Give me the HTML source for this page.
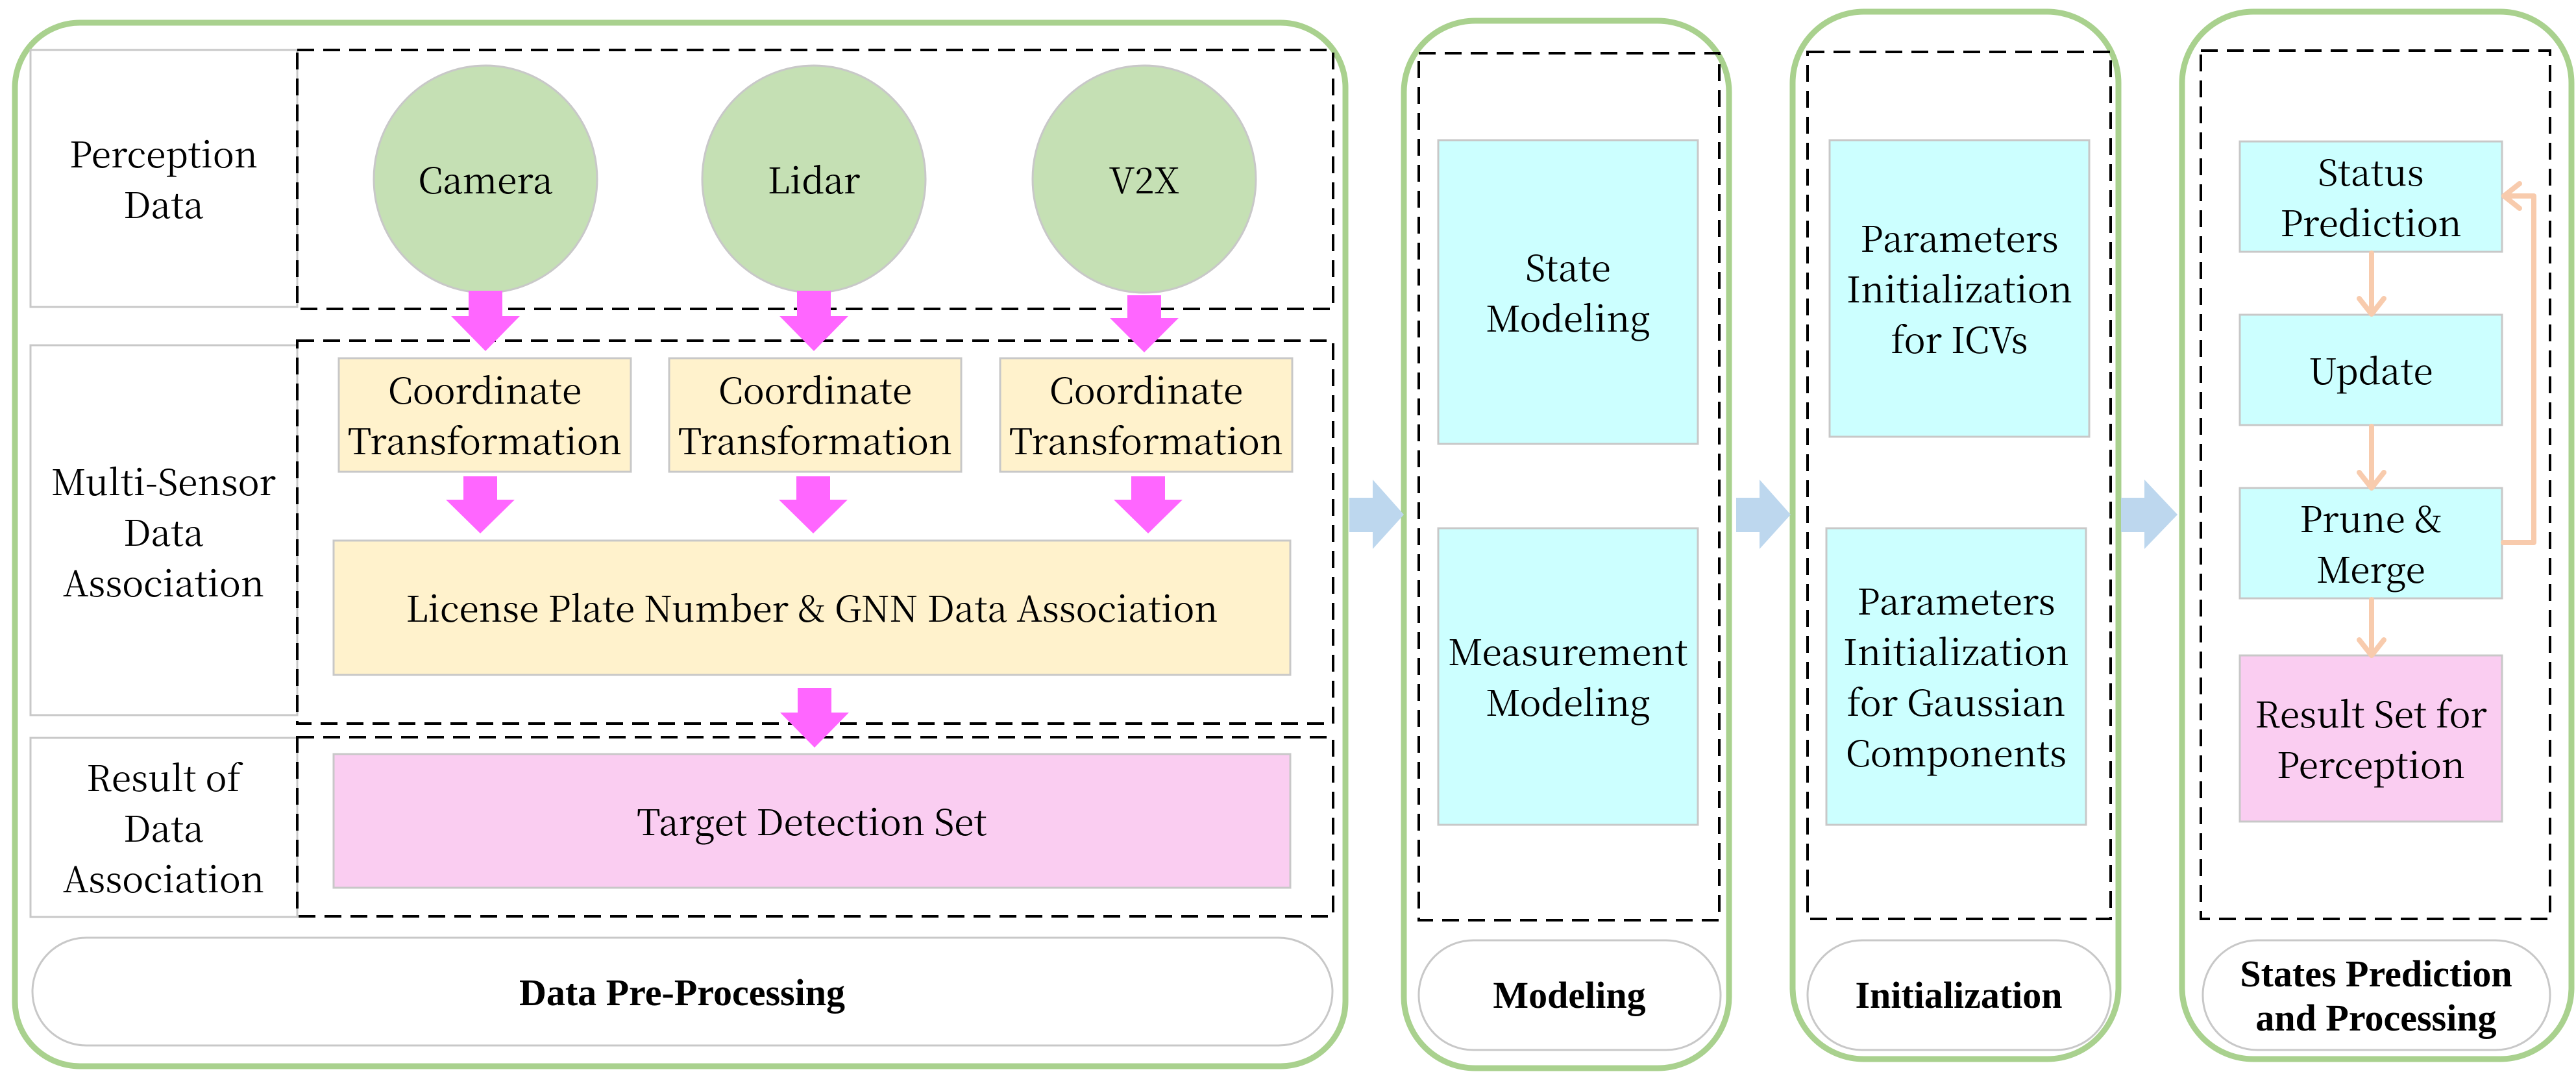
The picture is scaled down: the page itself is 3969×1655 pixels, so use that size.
<!DOCTYPE html>
<html><head><meta charset="utf-8"><style>
html,body{margin:0;padding:0;background:#fff;}
svg{display:block;}
svg text{font-family:"Noto Serif CJK SC","Liberation Serif",serif;font-size:55px;fill:#000;text-anchor:middle;font-weight:normal;}
svg text.b{font-family:"Liberation Serif",serif;font-weight:bold;font-size:58px;}
</style></head><body>
<svg width="3969" height="1655" viewBox="0 0 3969 1655" xmlns="http://www.w3.org/2000/svg">
<g fill="#fff" stroke="#a9d18e" stroke-width="9">
<rect x="23" y="35" width="2050" height="1608" rx="100"/>
<rect x="2163" y="32" width="501" height="1614" rx="110"/>
<rect x="2762" y="18" width="502" height="1614" rx="110"/>
<rect x="3362" y="18" width="600" height="1614" rx="110"/>
</g>
<g fill="#fff" stroke="#c8c8c8" stroke-width="3">
<rect x="47" y="77" width="411" height="396"/>
<rect x="47" y="532" width="411" height="570"/>
<rect x="47" y="1137" width="411" height="276"/>
</g>
<text x="252" y="258">Perception</text><text x="252" y="336">Data</text>
<text x="252" y="763">Multi-Sensor</text><text x="252" y="841">Data</text><text x="252" y="919">Association</text>
<text x="252" y="1219">Result of</text><text x="252" y="1297">Data</text><text x="252" y="1375">Association</text>
<g fill="none" stroke="#000" stroke-width="4" stroke-dasharray="26 14">
<rect x="458" y="77" width="1596" height="399"/>
<rect x="458" y="525" width="1596" height="590"/>
<rect x="458" y="1136" width="1596" height="276"/>
<rect x="2186" y="82" width="463" height="1336"/>
<rect x="2785" y="80" width="467" height="1336"/>
<rect x="3391" y="78" width="538" height="1338"/>
</g>
<g fill="#c5e0b4" stroke="#c8c8c8" stroke-width="3">
<ellipse cx="748" cy="276" rx="172" ry="175"/>
<ellipse cx="1254" cy="276" rx="172" ry="175"/>
<ellipse cx="1763" cy="276" rx="172" ry="175"/>
</g>
<g stroke="#c8c8c8" stroke-width="3">
<rect x="522" y="552" width="450" height="175" fill="#fff2cc"/>
<rect x="1031" y="552" width="450" height="175" fill="#fff2cc"/>
<rect x="1541" y="552" width="450" height="175" fill="#fff2cc"/>
<rect x="514" y="833" width="1474" height="207" fill="#fff2cc"/>
<rect x="514" y="1162" width="1474" height="206" fill="#facdf1"/>
<rect x="2216" y="216" width="400" height="468" fill="#ccffff"/>
<rect x="2216" y="814" width="400" height="457" fill="#ccffff"/>
<rect x="2819" y="216" width="400" height="457" fill="#ccffff"/>
<rect x="2814" y="814" width="400" height="457" fill="#ccffff"/>
<rect x="3451" y="218" width="404" height="170" fill="#ccffff"/>
<rect x="3451" y="485" width="404" height="170" fill="#ccffff"/>
<rect x="3451" y="752" width="404" height="170" fill="#ccffff"/>
<rect x="3451" y="1010" width="404" height="256" fill="#facdf1"/>
</g>
<g fill="#fff" stroke="#c8c8c8" stroke-width="3">
<rect x="50" y="1445" width="2003" height="166" rx="83"/>
<rect x="2186" y="1449" width="465" height="169" rx="84"/>
<rect x="2785" y="1449" width="467" height="169" rx="84"/>
<rect x="3394" y="1449" width="535" height="169" rx="84"/>
</g>
<text x="748" y="298">Camera</text><text x="1254" y="298">Lidar</text><text x="1763" y="298">V2X</text>
<text x="747" y="622">Coordinate</text><text x="747" y="700">Transformation</text>
<text x="1256" y="622">Coordinate</text><text x="1256" y="700">Transformation</text>
<text x="1766" y="622">Coordinate</text><text x="1766" y="700">Transformation</text>
<text x="1251" y="958">License Plate Number &amp; GNN Data Association</text>
<text x="1251" y="1287">Target Detection Set</text>
<text x="2416" y="433">State</text><text x="2416" y="511">Modeling</text>
<text x="2416" y="1025">Measurement</text><text x="2416" y="1103">Modeling</text>
<text x="3019" y="388">Parameters</text><text x="3019" y="466">Initialization</text><text x="3019" y="544">for ICVs</text>
<text x="3014" y="947">Parameters</text><text x="3014" y="1025">Initialization</text><text x="3014" y="1103">for Gaussian</text><text x="3014" y="1181">Components</text>
<text x="3653" y="286">Status</text><text x="3653" y="364">Prediction</text>
<text x="3653" y="592">Update</text>
<text x="3653" y="820">Prune &amp;</text><text x="3653" y="898">Merge</text>
<text x="3653" y="1121">Result Set for</text><text x="3653" y="1199">Perception</text>
<text class="b" x="1051" y="1549">Data Pre-Processing</text>
<text class="b" x="2418" y="1553">Modeling</text>
<text class="b" x="3018" y="1553">Initialization</text>
<text class="b" x="3661" y="1520">States Prediction</text>
<text class="b" x="3661" y="1588">and Processing</text>
<g fill="#ff66ff">
<polygon points="722,448 774,448 774,487 801,487 748,541 695,487 722,487"/>
<polygon points="1228,448 1280,448 1280,487 1307,487 1254,541 1201,487 1228,487"/>
<polygon points="1737,455 1789,455 1789,490 1816,490 1763,543 1710,490 1737,490"/>
<polygon points="714,734 766,734 766,770 793,770 740,822 687,770 714,770"/>
<polygon points="1227,734 1279,734 1279,770 1306,770 1253,822 1200,770 1227,770"/>
<polygon points="1743,734 1795,734 1795,770 1822,770 1769,822 1716,770 1743,770"/>
<polygon points="1229,1060 1281,1060 1281,1098 1308,1098 1255,1152 1202,1098 1229,1098"/>
</g>
<g fill="#bdd7ee">
<polygon points="2079,767 2115,767 2115,739 2163,793 2115,846 2115,820 2079,820"/>
<polygon points="2675,767 2711,767 2711,739 2759,793 2711,846 2711,820 2675,820"/>
<polygon points="3268,767 3304,767 3304,739 3355,793 3304,846 3304,820 3268,820"/>
</g>
<g fill="none" stroke="#f8cbad" stroke-width="8" stroke-linecap="round" stroke-linejoin="round">
<line x1="3654" y1="390" x2="3654" y2="482"/><polyline points="3635,460 3654,484 3673,460"/>
<line x1="3654" y1="657" x2="3654" y2="750"/><polyline points="3635,728 3654,752 3673,728"/>
<line x1="3654" y1="924" x2="3654" y2="1008"/><polyline points="3635,986 3654,1010 3673,986"/>
<polyline points="3857,836 3904,836 3904,302 3860,302"/>
<polyline points="3882,283 3858,302 3882,321"/>
</g>
</svg>
</body></html>
